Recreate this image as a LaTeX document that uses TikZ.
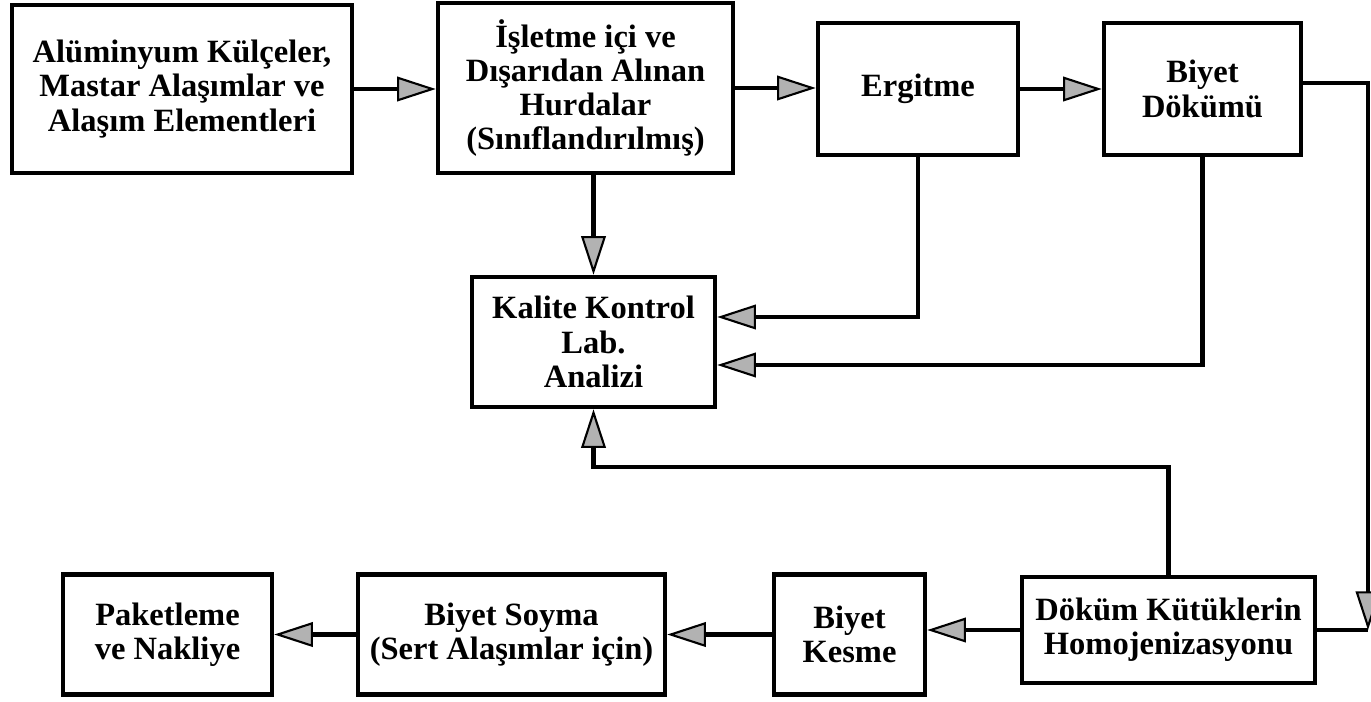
\documentclass[tikz,border=0pt]{standalone}
\usepackage{fontspec}
\setmainfont{Liberation Serif}
\usetikzlibrary{arrows.meta}

\begin{document}
\begin{tikzpicture}[x=0.02cm, y=-0.02cm,
    box/.style={draw, line width=2.6pt, align=center, inner sep=0pt,
        font=\fontsize{18.5}{19.5}\selectfont\bfseries},
    flow/.style={line width=2.4pt,
        -{Triangle[length=22pt, width=14pt, fill=gray!60, line width=1.2pt]}},
    link/.style={line width=2.4pt}]
    \useasboundingbox (0,0) rectangle (1371,701);

    % top row
    \node[box, minimum width=6.8cm, minimum height=3.36cm] (ingot) at (182,89)
        {Alüminyum Külçeler,\\Mastar Alaşımlar ve\\Alaşım Elementleri};
    \node[box, minimum width=5.9cm, minimum height=3.4cm] (scrap) at (585.5,88)
        {İşletme içi ve\\Dışarıdan Alınan\\Hurdalar\\(Sınıflandırılmış)};
    \node[box, minimum width=4.0cm, minimum height=2.64cm] (melt) at (918,89)
        {Ergitme};
    \node[box, minimum width=3.94cm, minimum height=2.64cm] (cast) at (1202.5,89)
        {Biyet\\Dökümü};

    % lab
    \node[box, minimum width=4.86cm, minimum height=2.6cm] (lab) at (593.5,342)
        {Kalite Kontrol\\Lab.\\Analizi};

    % bottom row
    \node[box, minimum width=4.18cm, minimum height=2.4cm] (pack) at (167.5,634.5)
        {Paketleme\\ve Nakliye};
    \node[box, minimum width=6.14cm, minimum height=2.4cm] (peel) at (511.5,634.5)
        {Biyet Soyma\\(Sert Alaşımlar için)};
    \node[box, minimum width=3.02cm, minimum height=2.4cm] (cut) at (849.5,634.5)
        {Biyet\\Kesme};
    \node[box, minimum width=5.86cm, minimum height=2.12cm] (homog) at (1168.5,630)
        {Döküm Kütüklerin\\Homojenizasyonu};

    \coordinate (edge) at (1368,0);

    \draw[flow] (ingot.east) -- (ingot.east -| scrap.west);
    \draw[flow] (scrap.east) -- (scrap.east -| melt.west);
    \draw[flow] (melt.east) -- (melt.east -| cast.west);
    \draw[flow] (lab.north |- scrap.south) -- (lab.north);
    \draw[flow] (melt.south) |- ([yshift=0.5cm]lab.east);
    \draw[flow] (cast.south) |- ([yshift=-0.46cm]lab.east);
    \draw[flow] (homog.north) |- ([yshift=-1.16cm]lab.south) -- (lab.south);
    \draw[flow] ([yshift=0.12cm]cast.east) -| (edge |- homog.east);
    \draw[link] (homog.east) -- (edge |- homog.east);
    \draw[flow] (homog.west) -- (homog.west -| cut.east);
    \draw[flow] (cut.west) -- (cut.west -| peel.east);
    \draw[flow] (peel.west) -- (peel.west -| pack.east);
\end{tikzpicture}
\end{document}
